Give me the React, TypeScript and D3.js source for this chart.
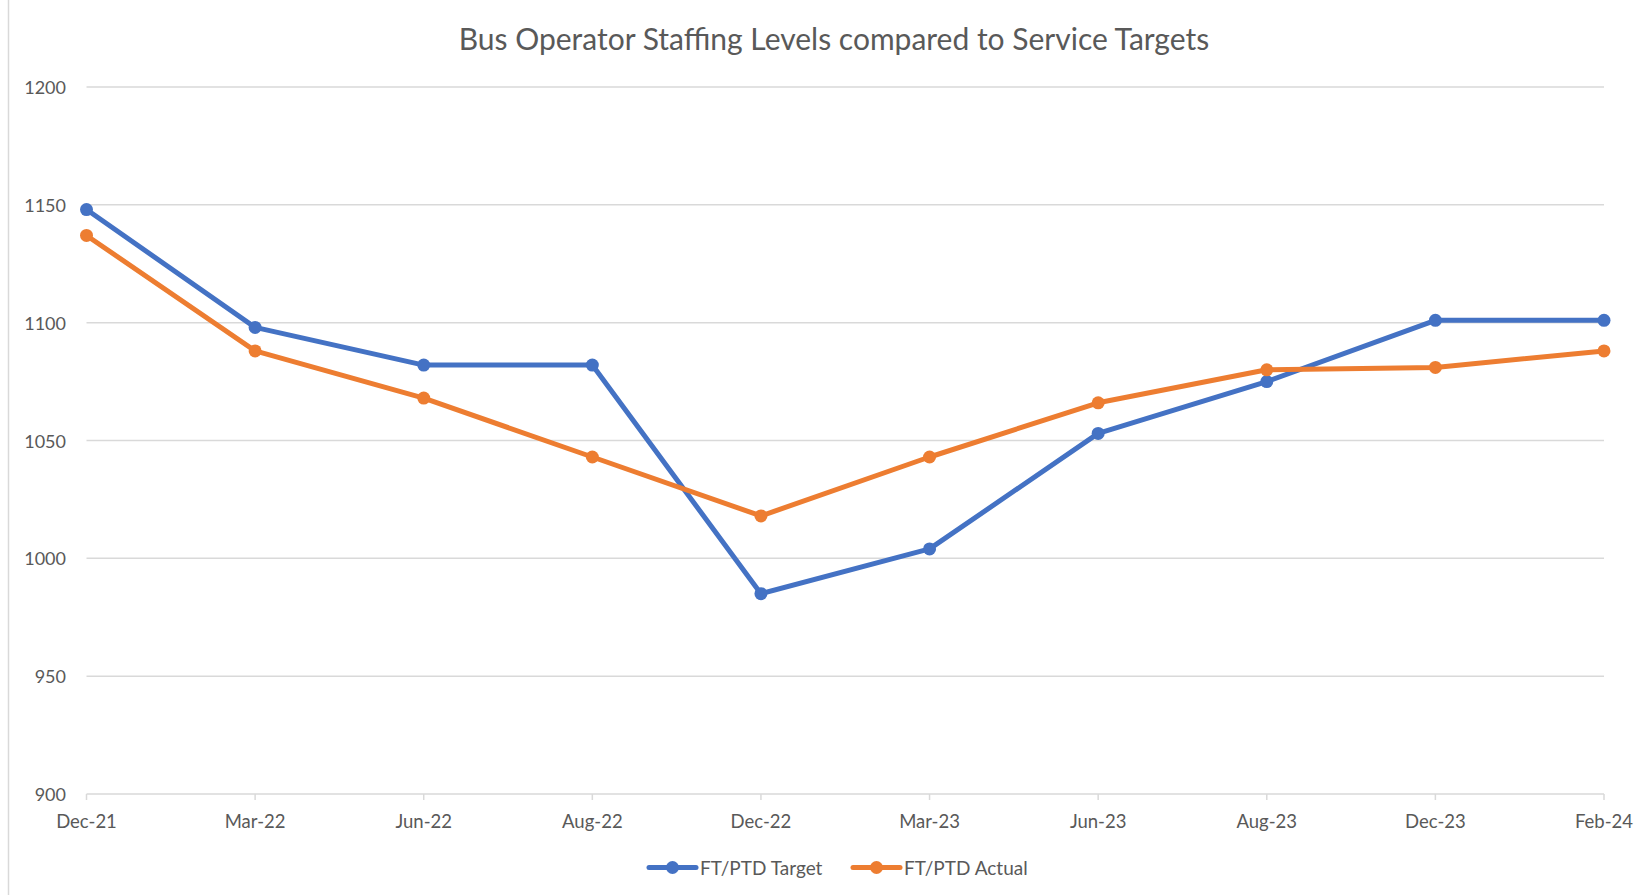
import React from "react";
import * as d3 from "d3";

const categories = ["Dec-21", "Mar-22", "Jun-22", "Aug-22", "Dec-22", "Mar-23", "Jun-23", "Aug-23", "Dec-23", "Feb-24"];
const targetValues = [1148, 1098, 1082, 1082, 985, 1004, 1053, 1075, 1101, 1101];
const actualValues = [1137, 1088, 1068, 1043, 1018, 1043, 1066, 1080, 1081, 1088];
const yTicks = [900, 950, 1000, 1050, 1100, 1150, 1200];
const seriesNames = ["FT/PTD Target", "FT/PTD Actual"];
const seriesColors = ["#4472C4", "#ED7D31"];
const title = "Bus Operator Staffing Levels compared to Service Targets";

const W = 1635;
const H = 895;
const FONT = "Lato, 'Open Sans', sans-serif";
const TXT = "#595959";
const GRID = "#d9d9d9";

export default function App() {
  const x = d3.scalePoint<string>().domain(categories).range([86.5, 1604]);
  const y = d3.scaleLinear().domain([900, 1200]).range([794, 87]);
  const line = d3
    .line<number>()
    .x((_, i) => x(categories[i]) as number)
    .y((d) => y(d));
  const series = [targetValues, actualValues];

  return (
    <svg
      width={W}
      height={H}
      style={{ position: "absolute", left: 0, top: 0, background: "#fff" }}
      fontFamily={FONT}
    >
      <rect x={0} y={0} width={W} height={H} fill="#fff" />
      <line x1={8.5} x2={8.5} y1={0} y2={H} stroke={GRID} strokeWidth={1.5} />
      <text x={834} y={38} textAnchor="middle" dominantBaseline="central" fontSize={30} fill={TXT}>
        {title}
      </text>
      {yTicks.map((t) => (
        <g key={t}>
          <line x1={86.5} x2={1604} y1={y(t)} y2={y(t)} stroke={GRID} strokeWidth={1.5} />
          <text x={66} y={y(t)} textAnchor="end" dominantBaseline="central" fontSize={18} fill={TXT}>
            {t}
          </text>
        </g>
      ))}
      {categories.map((c) => (
        <g key={c}>
          <line x1={x(c)} x2={x(c)} y1={y(900)} y2={y(900) + 6} stroke={GRID} strokeWidth={1.5} />
          <text x={x(c)} y={821} textAnchor="middle" dominantBaseline="central" fontSize={18.5} fill={TXT}>
            {c}
          </text>
        </g>
      ))}
      {series.map((s, si) => (
        <g key={si}>
          <path d={line(s) || ""} fill="none" stroke={seriesColors[si]} strokeWidth={5} strokeLinejoin="round" strokeLinecap="round" />
          {s.map((v, i) => (
            <circle key={i} cx={x(categories[i]) as number} cy={y(v)} r={6.5} fill={seriesColors[si]} />
          ))}
        </g>
      ))}
      {seriesNames.map((n, si) => {
        const lx = si === 0 ? 649 : 853;
        return (
          <g key={n}>
            <line x1={lx} x2={lx + 47} y1={867.5} y2={867.5} stroke={seriesColors[si]} strokeWidth={5} strokeLinecap="round" />
            <circle cx={lx + 23.5} cy={867.5} r={6.5} fill={seriesColors[si]} />
            <text x={lx + 51} y={867.5} dominantBaseline="central" fontSize={19} fill={TXT}>
              {n}
            </text>
          </g>
        );
      })}
    </svg>
  );
}
